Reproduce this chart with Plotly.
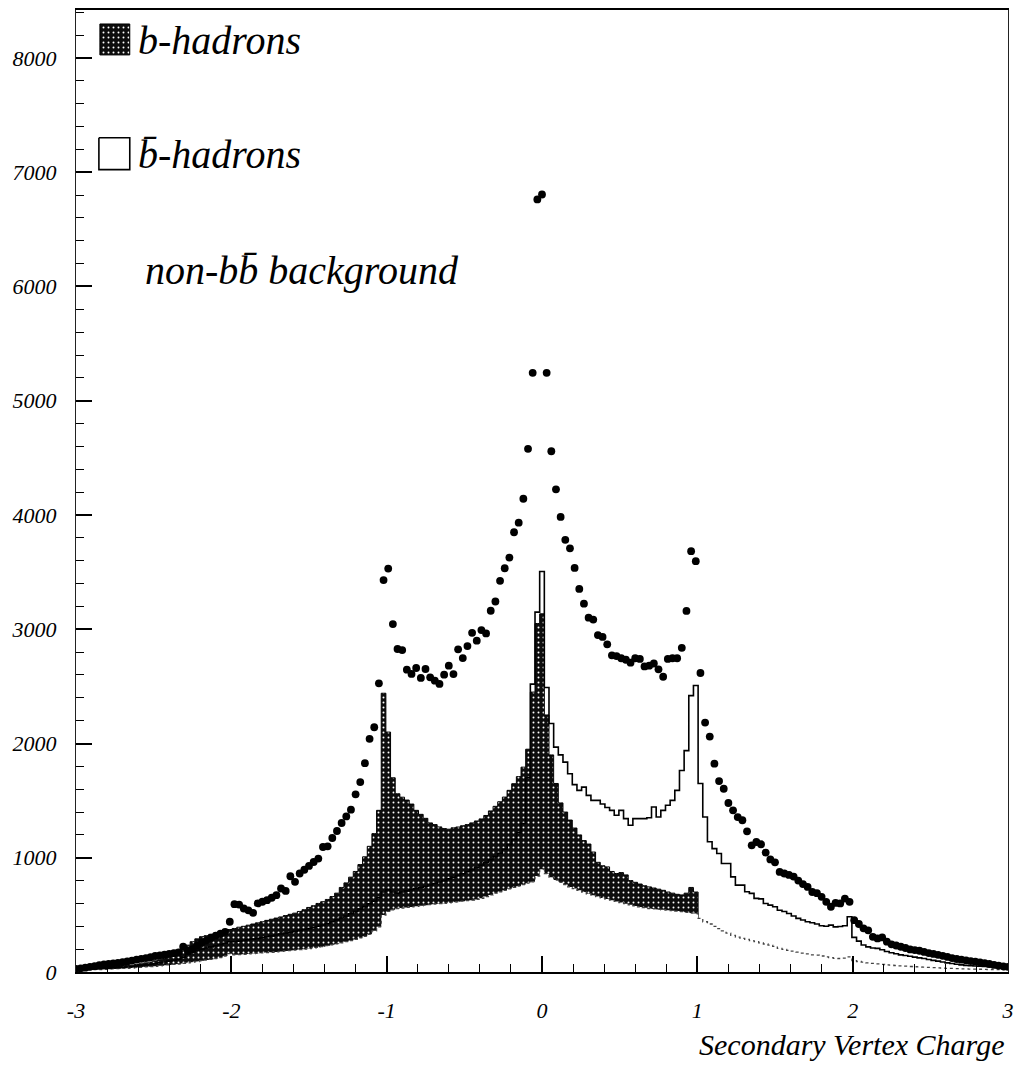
import numpy as np
import plotly.graph_objects as go

# ---- bins: 201 bin centres, width 0.03, from -3 to 3 ----
bin_centers = np.round(np.arange(-100, 101) * 0.03, 2)

# data points (dots)
data_counts = [
    28, 32, 38, 45, 52, 60, 66, 70, 75, 80,
    86, 92, 100, 108, 115, 122, 130, 140, 146, 152,
    158, 165, 172, 221, 186, 200, 232, 258, 275, 300,
    318, 335, 352, 440, 594, 590, 556, 540, 518, 600,
    615, 629, 650, 672, 731, 710, 838, 789, 862, 895,
    928, 963, 993, 1094, 1100, 1173, 1234, 1304, 1362, 1421,
    1555, 1662, 1828, 2041, 2142, 2527, 3430, 3531, 3045, 2827,
    2818, 2646, 2609, 2661, 2574, 2652, 2579, 2550, 2521, 2602,
    2681, 2608, 2824, 2748, 2853, 2969, 2900, 2993, 2963, 3162,
    3243, 3424, 3534, 3627, 3849, 3933, 4142, 4579, 5244, 6762,
    6805,
    5244, 4558, 4225, 3983, 3783, 3708, 3537, 3353, 3224, 3101,
    3085, 2949, 2933, 2868, 2772, 2765, 2746, 2733, 2707, 2746,
    2740, 2675, 2681, 2700, 2649, 2584, 2740, 2746, 2746, 2837,
    3160, 3683, 3596, 2617, 2183, 2061, 1823, 1671, 1604, 1479,
    1415, 1356, 1328, 1231, 1109, 1138, 1118, 1045, 985, 960,
    876, 862, 850, 835, 800, 770, 745, 700, 690, 658,
    614, 571, 605, 600, 643, 614, 454, 420, 382, 365,
    308, 294, 303, 265, 242, 232, 221, 210, 198, 192,
    186, 176, 166, 158, 150, 142, 132, 122, 114, 108,
    102, 96, 90, 85, 78, 70, 62, 56, 50, 45,
]

# b-hadrons (filled histogram)
b_hadrons = [
    22, 24, 27, 30, 33, 36, 39, 42, 45, 48,
    52, 56, 60, 66, 72, 80, 88, 98, 108, 118,
    128, 140, 155, 185, 235, 265, 290, 309, 318, 330,
    340, 352, 362, 372, 381, 392, 400, 410, 420, 430,
    440, 452, 462, 472, 482, 494, 505, 515, 530, 545,
    565, 580, 600, 615, 635, 660, 690, 740, 780, 830,
    880, 940, 1008, 1100, 1211, 1415, 2440, 2100, 1700, 1560,
    1530, 1505, 1470, 1415, 1380, 1345, 1305, 1290, 1270, 1255,
    1250, 1262, 1269, 1280, 1290, 1305, 1322, 1340, 1370, 1410,
    1450, 1490, 1531, 1590, 1648, 1710, 1793, 1950, 2450, 3050,
    3135,
    2250, 1900, 1650, 1480, 1400, 1330, 1260, 1200, 1150, 1120,
    1050, 960, 930, 920, 880, 862, 870, 850, 800, 785,
    770, 755, 745, 735, 725, 715, 700, 690, 680, 675,
    690, 740, 700, 400, 360, 330, 300, 280, 260, 240,
    225, 212, 200, 190, 180, 170, 160, 152, 145, 138,
    130, 124, 118, 112, 106, 100, 95, 90, 86, 82,
    78, 74, 70, 68, 70, 76, 60, 56, 52, 48,
    45, 42, 40, 38, 36, 34, 32, 30, 28, 27,
    26, 25, 24, 23, 22, 21, 20, 19, 18, 17,
    16, 15, 15, 14, 14, 13, 13, 12, 12, 11,
]

# b-bar-hadrons (open histogram)
bbar_hadrons = [
    18, 20, 22, 24, 26, 28, 31, 33, 36, 38,
    41, 44, 47, 52, 56, 62, 68, 74, 81, 88,
    95, 103, 112, 130, 158, 175, 190, 200, 210, 220,
    230, 240, 252, 265, 265, 270, 276, 282, 288, 294,
    300, 308, 316, 324, 332, 340, 348, 356, 364, 372,
    380, 390, 400, 412, 425, 440, 456, 472, 490, 510,
    530, 550, 572, 596, 620, 650, 700, 720, 700, 690,
    700, 710, 720, 730, 740, 750, 762, 775, 788, 800,
    815, 830, 845, 860, 878, 896, 915, 935, 958, 982,
    1010, 1040, 1075, 1115, 1160, 1220, 1300, 1700, 2520, 3150,
    3505,
    2490, 2175, 1968, 1900, 1837, 1735, 1640, 1590, 1618, 1546,
    1502, 1502, 1470, 1440, 1415, 1372, 1415, 1342, 1284, 1342,
    1342, 1342, 1350, 1444, 1357, 1415, 1459, 1502, 1590, 1764,
    1938, 2419, 2507, 1650, 1357, 1140, 1080, 1037, 950, 950,
    833, 760, 760, 702, 688, 644, 640, 600, 585, 571,
    540, 530, 512, 490, 469, 455, 440, 431, 420, 405,
    400, 410, 395, 398, 405, 483, 303, 270, 236, 220,
    210, 207, 195, 180, 168, 160, 150, 145, 138, 130,
    124, 118, 110, 102, 95, 88, 80, 74, 68, 62,
    58, 55, 52, 50, 48, 46, 42, 38, 35, 32,
]

# non-bb background
non_bb_background = [
    15, 16, 17, 18, 20, 21, 23, 25, 27, 29,
    31, 33, 35, 38, 41, 44, 47, 50, 54, 58,
    62, 66, 70, 75, 80, 86, 92, 98, 104, 110,
    118, 126, 140, 160, 150, 152, 155, 158, 161, 164,
    167, 170, 173, 176, 180, 184, 188, 192, 196, 200,
    205, 210, 215, 222, 230, 238, 246, 255, 265, 275,
    285, 298, 312, 330, 360, 396, 498, 530, 545, 556,
    560, 565, 570, 575, 580, 585, 590, 595, 598, 600,
    605, 610, 615, 620, 625, 629, 635, 645, 660, 675,
    690, 702, 715, 728, 740, 752, 765, 778, 789, 840,
    900,
    861, 830, 805, 785, 765, 745, 730, 715, 700, 685,
    672, 660, 648, 638, 629, 618, 608, 598, 588, 578,
    570, 563, 556, 552, 548, 545, 541, 537, 533, 528,
    522, 516, 512, 470, 440, 420, 400, 380, 360, 340,
    320, 305, 294, 285, 275, 265, 255, 245, 235, 224,
    206, 198, 190, 182, 174, 166, 158, 150, 148, 140,
    132, 126, 120, 118, 122, 133, 100, 92, 86, 80,
    75, 71, 67, 63, 60, 57, 54, 51, 48, 46,
    44, 42, 40, 38, 36, 34, 32, 31, 30, 28,
    27, 26, 25, 24, 23, 22, 21, 20, 19, 18,
]

for arr in (data_counts, b_hadrons, bbar_hadrons, non_bb_background):
    assert len(arr) == len(bin_centers), len(arr)

x_tick_vals = [-3, -2, -1, 0, 1, 2, 3]
x_tick_text = ["-3", "-2", "-1", "0", "1", "2", "3"]
y_tick_vals = [0, 1000, 2000, 3000, 4000, 5000, 6000, 7000, 8000]
y_tick_text = ["0", "1000", "2000", "3000", "4000", "5000", "6000", "7000", "8000"]
legend_labels = ["b-hadrons", "b\u0304-hadrons", "non-bb\u0304 background"]
x_title = "Secondary Vertex Charge"

SERIF = "Liberation Serif"
texture = dict(shape=".", fgcolor="white", bgcolor="#0d0d0d",
               size=5, solidity=0.12, fillmode="replace")

fig = go.Figure()

# b-hadrons filled (textured)
fig.add_trace(go.Scatter(
    x=bin_centers, y=b_hadrons, mode="lines", line=dict(color="black", width=1, shape="hvh"),
    fill="tozeroy", fillcolor="#0d0d0d", fillpattern=texture, showlegend=False))

# non-bb background: white fill, dotted outline (drawn over the b fill)
fig.add_trace(go.Scatter(
    x=bin_centers, y=non_bb_background, mode="lines",
    line=dict(color="#444444", width=1.3, shape="hvh", dash="dot"),
    fill="tozeroy", fillcolor="white", showlegend=False))

# b-bar-hadrons open histogram
fig.add_trace(go.Scatter(
    x=bin_centers, y=bbar_hadrons, mode="lines",
    line=dict(color="black", width=1.6, shape="hvh"), showlegend=False))

# data dots
fig.add_trace(go.Scatter(
    x=bin_centers, y=data_counts, mode="markers",
    marker=dict(color="black", size=7.8, symbol="circle"), showlegend=False))

# legend swatches on a pixel-like overlay axis
fig.add_trace(go.Scatter(
    x=[100, 130, 130, 100, 100], y=[22, 22, 53, 53, 22], mode="lines",
    line=dict(color="black", width=1), fill="toself", fillcolor="#0d0d0d",
    fillpattern=texture, xaxis="x2", yaxis="y2", showlegend=False, hoverinfo="skip"))
fig.add_trace(go.Scatter(
    x=[99, 130, 130, 99, 99], y=[136, 136, 168, 168, 136], mode="lines",
    line=dict(color="black", width=1.6), xaxis="x2", yaxis="y2",
    showlegend=False, hoverinfo="skip"))

legend_font = dict(family=SERIF, size=40, color="black", style="italic")
fig.add_annotation(x=136, y=39, xref="x2", yref="y2", text=legend_labels[0],
                   showarrow=False, xanchor="left", yanchor="middle", font=legend_font)
fig.add_annotation(x=136, y=153, xref="x2", yref="y2", text=legend_labels[1],
                   showarrow=False, xanchor="left", yanchor="middle", font=legend_font)
fig.add_annotation(x=143, y=269, xref="x2", yref="y2", text=legend_labels[2],
                   showarrow=False, xanchor="left", yanchor="middle", font=legend_font)

fig.add_annotation(x=0.998, y=-0.075, xref="paper", yref="paper", text=x_title,
                   showarrow=False, xanchor="right", yanchor="middle",
                   font=dict(family=SERIF, size=30, color="black", style="italic"))

tick_font = dict(family=SERIF, size=22, color="black", style="italic")

fig.update_layout(
    width=1022, height=1070,
    margin=dict(l=76, r=10, t=8, b=98),
    paper_bgcolor="white", plot_bgcolor="white",
    showlegend=False,
    xaxis=dict(range=[-3, 3], tickmode="array", tickvals=x_tick_vals, ticktext=x_tick_text,
               ticks="inside", ticklen=16, tickwidth=1.5, tickcolor="black",
               showline=True, linecolor="black", linewidth=2, mirror=True,
               showgrid=False, zeroline=False, tickfont=tick_font, ticklabelstandoff=18,
               minor=dict(dtick=0.2, tick0=0, ticks="inside", ticklen=8,
                          tickwidth=1.2, tickcolor="black", showgrid=False)),
    yaxis=dict(range=[0, 8420], tickmode="array", tickvals=y_tick_vals, ticktext=y_tick_text,
               ticks="inside", ticklen=16, tickwidth=1.5, tickcolor="black",
               showline=True, linecolor="#222222", linewidth=1.2, mirror=True,
               showgrid=False, zeroline=False, tickfont=tick_font, ticklabelstandoff=14,
               minor=dict(dtick=200, tick0=0, ticks="inside", ticklen=8,
                          tickwidth=1.2, tickcolor="black", showgrid=False)),
    xaxis2=dict(overlaying="x", range=[76, 1012], visible=False, fixedrange=True),
    yaxis2=dict(overlaying="y", range=[972, 8], visible=False, fixedrange=True),
)

fig.write_html("out.html")
